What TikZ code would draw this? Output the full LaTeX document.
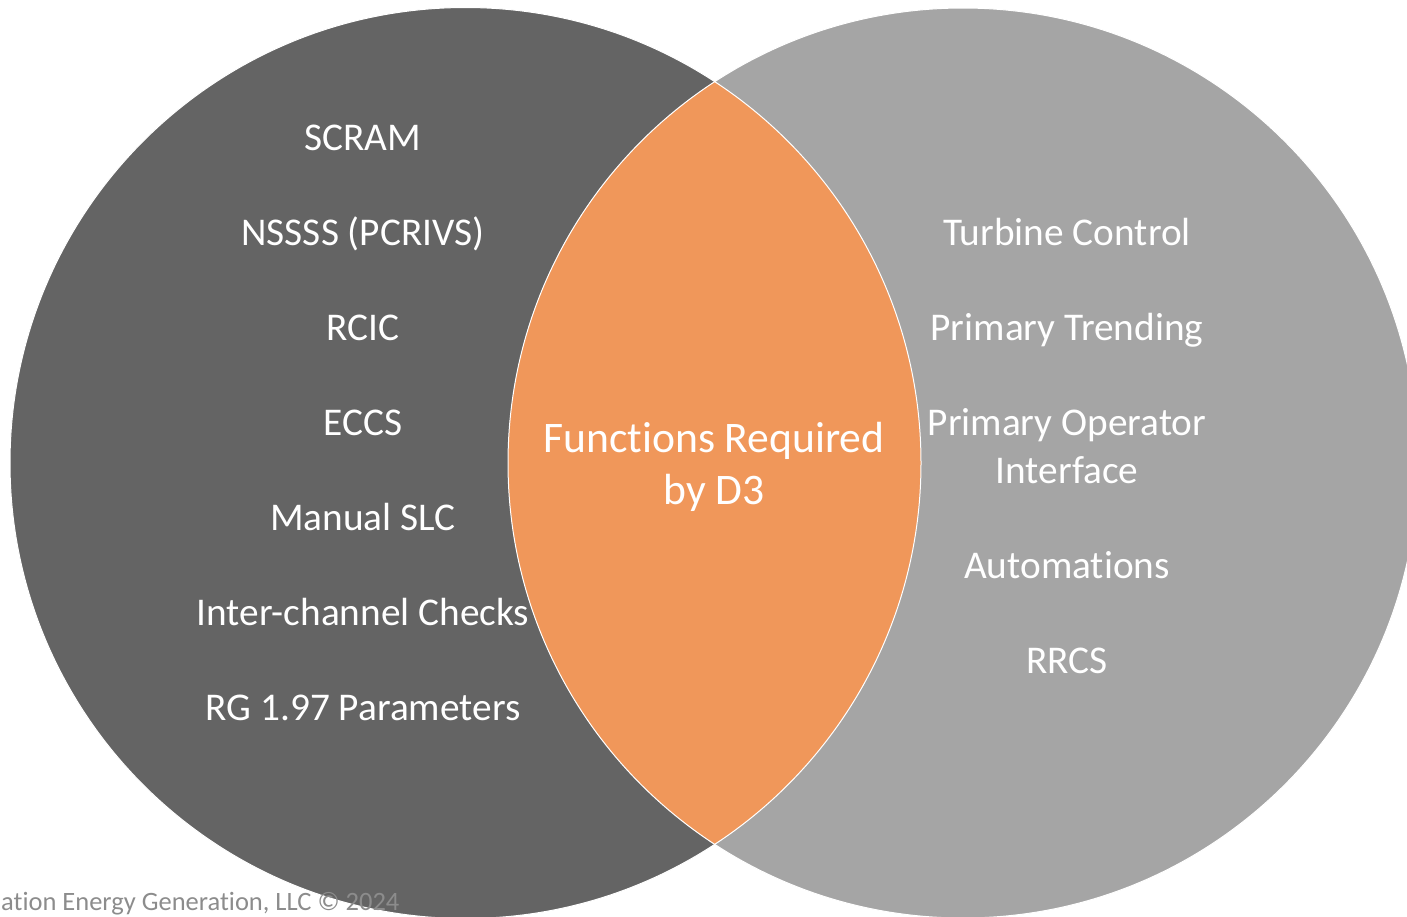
\documentclass[tikz,border=0pt]{standalone}
\usepackage{fontspec}
\setmainfont{Carlito}[Ligatures=NoCommon]
\definecolor{darkset}{HTML}{646464}
\definecolor{lightset}{HTML}{A5A5A5}
\definecolor{overlap}{HTML}{F0975A}
\definecolor{footgray}{HTML}{8C8C8C}
\begin{document}
\begin{tikzpicture}[x=1pt,y=-1pt,
  item/.style={text=white,font=\fontsize{39.3}{48}\selectfont,anchor=base,inner sep=0pt,align=center},
  core/.style={text=white,font=\fontsize{43.6}{52}\selectfont,inner sep=0pt,align=center},
  foot/.style={text=footgray,font=\fontsize{26.5}{30}\selectfont,anchor=base west,inner sep=0pt}]
\useasboundingbox (0,0) rectangle (1407,916);
% two sets
\fill[darkset] (465.5,463) circle[radius=455.5];
\fill[lightset] (963,463) circle[radius=455];
% overlap of the sets
\begin{scope}
  \clip (465.5,463) circle[radius=455.5];
  \fill[overlap] (963,463) circle[radius=455];
\end{scope}
\draw[white,line width=1pt] (465.5,463) circle[radius=455.5];
\draw[white,line width=1pt] (963,463) circle[radius=455];
% left set
\node[item] (scram) at (363,150) {SCRAM};
\node[item] (nssss) at (363,245) {NSSSS (PCRIVS)};
\node[item] (rcic)  at (363,340) {RCIC};
\node[item] (eccs)  at (363,435) {ECCS};
\node[item] (slc)   at (363,530) {Manual SLC};
\node[item] (icc)   at (363,625) {Inter-channel Checks};
\node[item] (rg)    at (363,720) {RG 1.97 Parameters};
% right set (base of a two-line node is its last line)
\node[item] (turb)  at (1067,245) {Turbine Control};
\node[item] (trend) at (1067,340) {Primary Trending};
\node[item] (poi)   at (1067,483) {Primary Operator\\Interface};
\node[item] (auto)  at (1067,578) {Automations};
\node[item] (rrcs)  at (1067,673) {RRCS};
% overlap
\node[core] (d3) at (714,467) {Functions Required\\by D3};
% footer
\node[foot] (copy) at (1,910) {ation Energy Generation, LLC © 2024};
\end{tikzpicture}
\end{document}
